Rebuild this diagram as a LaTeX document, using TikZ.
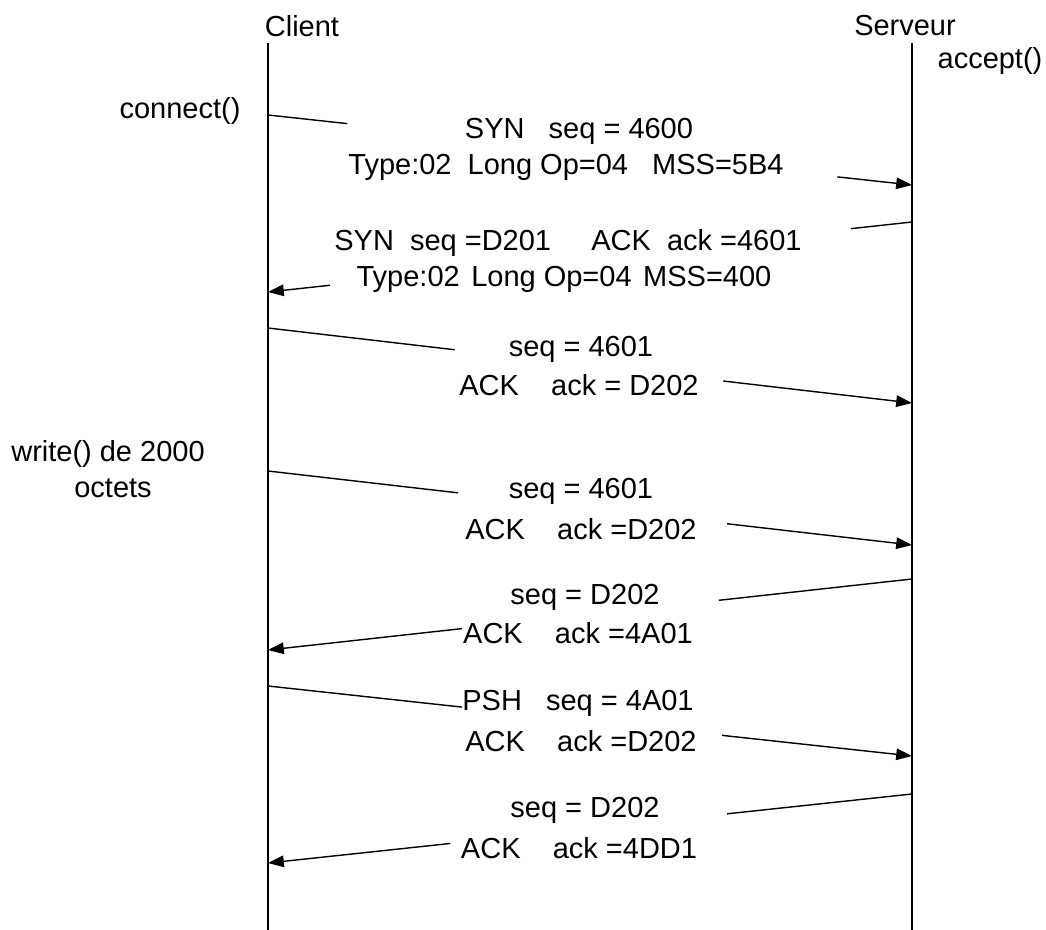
\documentclass[tikz,border=0pt]{standalone}
\usepackage{fontspec}
\setmainfont{Liberation Sans}
\usetikzlibrary{arrows.meta,calc}

\tikzset{
  life/.style={line width=0.8pt},
  msg/.style={line width=0.8pt},
  msgtip/.style={msg,-{Triangle[length=9pt,width=6.6pt]}},
  lbl/.style={inner sep=0pt,font=\fontsize{16.5}{19}\selectfont},
}

\begin{document}
\begin{tikzpicture}[x=0.02cm,y=-0.02cm]
  \useasboundingbox (0,0) rectangle (1046,930);

  % lifelines
  \coordinate (ctop) at (268,43);
  \coordinate (cbot) at (268,930);
  \coordinate (stop) at (912,43);
  \coordinate (sbot) at (912,930);
  \draw[life] (ctop) -- (cbot);
  \draw[life] (stop) -- (sbot);

  \node[lbl] (client) at (302,26) {Client};
  \node[lbl] (serveur) at (905,26) {Serveur};
  \node[lbl] (accept) at (990,61) {accept()};
  \node[lbl] (connect) at (180,111) {connect()};
  \node[lbl] (write) at (108,454) {write() de 2000};
  \node[lbl] (octets) at (113,488) {octets};

  % ends of the messages on the lifelines
  \coordinate (c1) at (268,115);  \coordinate (s1) at (912,185);
  \coordinate (s2) at (912,222);  \coordinate (c2) at (268,292);
  \coordinate (c3) at (268,328);  \coordinate (s3) at (912,403);
  \coordinate (c4) at (268,471);  \coordinate (s4) at (912,545);
  \coordinate (s5) at (912,579);  \coordinate (c5) at (268,650);
  \coordinate (c6) at (268,686);  \coordinate (s6) at (912,756);
  \coordinate (s7) at (912,794);  \coordinate (c7) at (268,863);

  % SYN
  \draw[msg] (c1) -- ($(c1)!0.123!(s1)$);
  \draw[msgtip] ($(c1)!0.884!(s1)$) -- (s1);
  \node[lbl] (m1a) at (579,131) {SYN~~~seq = 4600};
  \node[lbl] (m1b) at (566,167) {Type:02~~Long Op=04~~~MSS=5B4};

  % SYN ACK
  \draw[msg] (s2) -- ($(s2)!0.095!(c2)$);
  \draw[msgtip] ($(s2)!0.904!(c2)$) -- (c2);
  \node[lbl] (m2a) at (568,243) {SYN~~seq =D201~~~~~ACK~~ack =4601};
  \node[lbl] (m2b) at (564,279) {Type:02\hspace{2pt} Long Op=04\hspace{2pt} MSS=400};

  % ACK
  \draw[msg] (c3) -- ($(c3)!0.29!(s3)$);
  \draw[msgtip] ($(c3)!0.707!(s3)$) -- (s3);
  \node[lbl] (m3a) at (581,349) {seq = 4601};
  \node[lbl] (m3b) at (579,385) {ACK~~~~ack = D202};

  % write()
  \draw[msg] (c4) -- ($(c4)!0.295!(s4)$);
  \draw[msgtip] ($(c4)!0.713!(s4)$) -- (s4);
  \node[lbl] (m4a) at (581,491) {seq = 4601};
  \node[lbl] (m4b) at (581,529) {ACK~~~~ack =D202};

  \draw[msg] (s5) -- ($(s5)!0.30!(c5)$);
  \draw[msgtip] ($(s5)!0.699!(c5)$) -- (c5);
  \node[lbl] (m5a) at (585,597) {seq = D202};
  \node[lbl] (m5b) at (578,633) {ACK~~~~ack =4A01};

  % PSH
  \draw[msg] (c6) -- ($(c6)!0.301!(s6)$);
  \draw[msgtip] ($(c6)!0.705!(s6)$) -- (s6);
  \node[lbl] (m6a) at (578,703) {PSH~~~seq = 4A01};
  \node[lbl] (m6b) at (581,741) {ACK~~~~ack =D202};

  \draw[msg] (s7) -- ($(s7)!0.287!(c7)$);
  \draw[msgtip] ($(s7)!0.717!(c7)$) -- (c7);
  \node[lbl] (m7a) at (585,810) {seq = D202};
  \node[lbl] (m7b) at (579,848) {ACK~~~~ack =4DD1};
\end{tikzpicture}
\end{document}
